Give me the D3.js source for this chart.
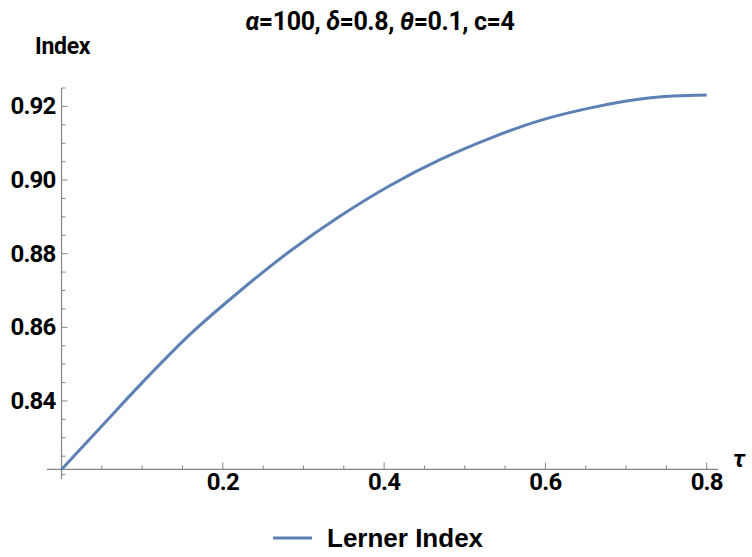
<!DOCTYPE html>
<html>
<head>
<meta charset="utf-8">
<script src="https://cdn.jsdelivr.net/npm/d3@7"></script>
<style>
  html, body { margin: 0; padding: 0; background: #fff; }
  svg text { font-family: "Roboto", sans-serif; font-weight: bold; fill: #000; }
</style>
</head>
<body>
<div id="chart"></div>
<script>
// values
const tau = [0, 0.05, 0.098, 0.16, 0.222, 0.284, 0.346, 0.408, 0.47, 0.532, 0.594, 0.656, 0.718, 0.759, 0.8];
const lerner = [0.8214, 0.8332, 0.8445, 0.8582, 0.8700, 0.8808, 0.8903, 0.8986, 0.9056, 0.9114, 0.9162, 0.9196, 0.9220, 0.9228, 0.9231];
const xTicks = [0.2, 0.4, 0.6, 0.8];
const yTicks = [0.84, 0.86, 0.88, 0.90, 0.92];
const seriesName = "Lerner Index";

const W = 752, H = 557;
const svg = d3.select("#chart").append("svg")
    .attr("width", W)
    .attr("height", H);

const x = d3.scaleLinear().domain([-0.018, 0.814]).range([47, 718]);
const y = d3.scaleLinear().domain([0.8188, 0.925]).range([479, 88]);

const axisColor = "#858585";
const x0 = x(0), yOrigin = y(lerner[0]);

// minor ticks
const xMinor = d3.range(0.05, 0.81, 0.05);
const yMinor = d3.range(0.82, 0.9251, 0.005);

const axes = svg.append("g");

// x axis
axes.append("line")
    .attr("x1", x.range()[0]).attr("x2", x.range()[1])
    .attr("y1", yOrigin).attr("y2", yOrigin)
    .attr("stroke", axisColor).attr("stroke-width", 1.2);
axes.selectAll(".xminor").data(xMinor).join("line")
    .attr("x1", d => x(d)).attr("x2", d => x(d))
    .attr("y1", yOrigin).attr("y2", d => {
        const major = xTicks.some(t => Math.abs(t - d) < 1e-6);
        return yOrigin - (major ? 7 : 4);
    })
    .attr("stroke", axisColor).attr("stroke-width", 1);
axes.selectAll(".xlab").data(xTicks).join("text")
    .attr("x", d => x(d)).attr("y", yOrigin + 21)
    .attr("text-anchor", "middle")
    .style("font-size", "24px")
    .style("letter-spacing", "-0.8px")
    .text(d => d3.format(".1f")(d));

// y axis
axes.append("line")
    .attr("x1", x0).attr("x2", x0)
    .attr("y1", y.range()[0]).attr("y2", y.range()[1])
    .attr("stroke", axisColor).attr("stroke-width", 1.2);
axes.selectAll(".yminor").data(yMinor).join("line")
    .attr("x1", x0).attr("x2", d => {
        const major = yTicks.some(t => Math.abs(t - d) < 1e-6);
        return x0 + (major ? 6 : 4);
    })
    .attr("y1", d => y(d)).attr("y2", d => y(d))
    .attr("stroke", axisColor).attr("stroke-width", 1);
axes.selectAll(".ylab").data(yTicks).join("text")
    .attr("x", x0 - 6).attr("y", d => y(d) + 8)
    .attr("text-anchor", "end")
    .style("font-size", "24px")
    .style("letter-spacing", "-0.8px")
    .text(d => d3.format(".2f")(d));

// axis labels
svg.append("text")
    .attr("x", 35).attr("y", 54)
    .style("font-size", "23px")
    .style("letter-spacing", "-0.3px")
    .text("Index");
svg.append("text")
    .attr("x", 733).attr("y", 467)
    .style("font-size", "24px")
    .style("font-style", "italic")
    .text("τ");

// title
const title = svg.append("text")
    .attr("x", 380).attr("y", 30)
    .attr("text-anchor", "middle")
    .style("font-size", "25px")
    .style("letter-spacing", "-0.4px");
[["α", true], ["=100, ", false], ["δ", true], ["=0.8, ", false], ["θ", true], ["=0.1, c=4", false]]
    .forEach(([t, it]) => title.append("tspan").style("font-style", it ? "italic" : "normal").text(t));

// curve
const line = d3.line()
    .x((d, i) => x(tau[i]))
    .y(d => y(d))
    .curve(d3.curveMonotoneX);
svg.append("path")
    .datum(lerner)
    .attr("d", line)
    .attr("fill", "none")
    .attr("stroke", "#5e81b5")
    .attr("stroke-width", 3);

// legend
const leg = svg.append("g");
leg.append("line")
    .attr("x1", 273).attr("x2", 312).attr("y1", 538).attr("y2", 538)
    .attr("stroke", "#5e81b5").attr("stroke-width", 3);
leg.append("text")
    .attr("x", 327).attr("y", 547)
    .style("font-family", "'Liberation Sans', Arial, sans-serif")
    .style("font-size", "26px")
    .text(seriesName);
</script>
</body>
</html>
